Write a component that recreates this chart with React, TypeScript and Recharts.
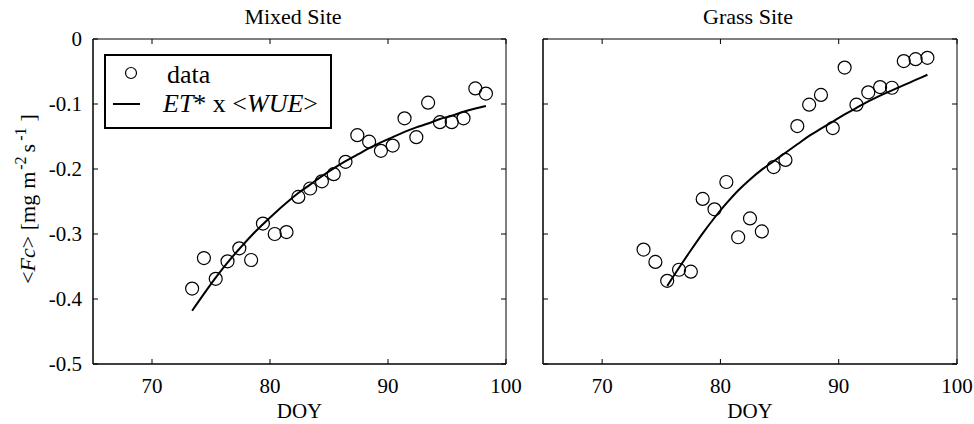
import { ComposedChart, Scatter, Line, XAxis, YAxis, Legend } from 'recharts';

// Mixed site: daily <Fc> and the ET* x <WUE> estimate
const mixedDoy = [73.4, 74.4, 75.4, 76.4, 77.4, 78.4, 79.4, 80.4, 81.4, 82.4, 83.4, 84.4, 85.4, 86.4, 87.4, 88.4, 89.4, 90.4, 91.4, 92.4, 93.4, 94.4, 95.4, 96.4, 97.4, 98.3];
const mixedFc = [-0.384, -0.337, -0.369, -0.342, -0.322, -0.340, -0.284, -0.300, -0.297, -0.243, -0.230, -0.219, -0.208, -0.189, -0.148, -0.158, -0.172, -0.164, -0.122, -0.151, -0.098, -0.128, -0.128, -0.122, -0.076, -0.084];
const mixedFit = [-0.418, -0.392, -0.367, -0.344, -0.323, -0.303, -0.285, -0.268, -0.252, -0.237, -0.224, -0.211, -0.199, -0.188, -0.178, -0.168, -0.159, -0.151, -0.143, -0.136, -0.130, -0.123, -0.118, -0.112, -0.107, -0.103];

// Grass site
const grassDoy = [73.5, 74.5, 75.5, 76.5, 77.5, 78.5, 79.5, 80.5, 81.5, 82.5, 83.5, 84.5, 85.5, 86.5, 87.5, 88.5, 89.5, 90.5, 91.5, 92.5, 93.5, 94.5, 95.5, 96.5, 97.5];
const grassFc = [-0.324, -0.343, -0.372, -0.355, -0.358, -0.246, -0.262, -0.220, -0.305, -0.276, -0.296, -0.197, -0.186, -0.134, -0.101, -0.086, -0.137, -0.044, -0.101, -0.082, -0.074, -0.075, -0.034, -0.031, -0.029];
const grassFitDoy = [75.5, 76.5, 77.5, 78.5, 79.5, 80.5, 81.5, 82.5, 83.5, 84.5, 85.5, 86.5, 87.5, 88.5, 89.5, 90.5, 91.5, 92.5, 93.5, 94.5, 95.5, 96.5, 97.5];
const grassFit = [-0.380, -0.352, -0.325, -0.299, -0.275, -0.253, -0.233, -0.216, -0.201, -0.188, -0.175, -0.162, -0.149, -0.138, -0.127, -0.116, -0.106, -0.096, -0.087, -0.079, -0.071, -0.063, -0.055];

const xTicks = [70, 80, 90, 100];
const yTicks = [-0.5, -0.4, -0.3, -0.2, -0.1, 0];

const FONT = "'Liberation Serif', 'DejaVu Serif', serif";

const toRows = (xs: number[], ys: number[]) => xs.map((x, i) => ({ x, y: ys[i] }));

const OpenCircle = (props: any) => (
  <circle cx={props.cx} cy={props.cy} r={6.5} fill="none" stroke="#000" strokeWidth={1.2} />
);

const LegendBox = () => (
  <svg width={228} height={75} style={{ display: 'block' }}>
    <rect x={1} y={1} width={226} height={73} fill="#fff" stroke="#000" strokeWidth={2} />
    <circle cx={27} cy={19} r={5.5} fill="none" stroke="#000" strokeWidth={1.2} />
    <text x={63} y={29} fontSize={26} fontFamily={FONT} fill="#000">data</text>
    <line x1={9} x2={36} y1={50} y2={50} stroke="#000" strokeWidth={2} />
    <text x={59} y={58} fontSize={26} fontFamily={FONT} fill="#000">
      <tspan fontStyle="italic">ET</tspan>* x &lt;<tspan fontStyle="italic">WUE</tspan>&gt;
    </text>
  </svg>
);

const YLabel = () => (
  <text transform="translate(35,199) rotate(-90)" textAnchor="middle" fontSize={22} fontFamily={FONT} fill="#000">
    &lt;<tspan fontStyle="italic">Fc</tspan>&gt; [mg<tspan dx={6}>m</tspan>
    <tspan dx={2} dy={-9} fontSize={16}>-2</tspan>
    <tspan dx={4} dy={9}>s</tspan>
    <tspan dx={3} dy={-9} fontSize={16}>-1</tspan>
    <tspan dx={6} dy={9}>]</tspan>
  </text>
);

interface PanelProps {
  title: string;
  titleX: number;
  points: { x: number; y: number }[];
  fit: { x: number; y: number }[];
  width: number;
  yAxisWidth: number;
  marginRight: number;
  showYLabels: boolean;
  showLegend: boolean;
}

function Panel({ title, titleX, points, fit, width, yAxisWidth, marginRight, showYLabels, showLegend }: PanelProps) {
  const tickStyle = { fontSize: 21, fill: '#000', fontFamily: FONT };
  const blank = () => '';
  return (
    <ComposedChart width={width} height={424} margin={{ top: 38, right: marginRight, bottom: 0, left: 0 }}>
      <XAxis
        type="number"
        dataKey="x"
        domain={[65, 100]}
        ticks={xTicks}
        interval={0}
        allowDataOverflow
        height={60}
        tickSize={-5}
        tickMargin={19}
        tick={tickStyle}
        axisLine={{ stroke: '#000', strokeWidth: 1.5 }}
        tickLine={{ stroke: '#000' }}
        label={{ value: 'DOY', position: 'insideBottom', offset: 6, fontSize: 21, fill: '#000', fontFamily: FONT }}
      />
      <XAxis
        xAxisId="top"
        orientation="top"
        type="number"
        dataKey="x"
        domain={[65, 100]}
        ticks={xTicks}
        interval={0}
        allowDataOverflow
        height={1}
        tickSize={-5}
        tickFormatter={blank}
        axisLine={{ stroke: '#000' }}
        tickLine={{ stroke: '#000' }}
        label={{
          content: () => (
            <text x={titleX} y={24} textAnchor="middle" fontSize={22} fontFamily={FONT} fill="#000">
              {title}
            </text>
          ),
        }}
      />
      <YAxis
        type="number"
        dataKey="y"
        domain={[-0.5, 0]}
        ticks={yTicks}
        interval={0}
        allowDataOverflow
        width={yAxisWidth}
        tickSize={-5}
        tickMargin={16}
        tick={tickStyle}
        tickFormatter={showYLabels ? (v: number) => String(v) : blank}
        axisLine={{ stroke: '#000', strokeWidth: 1.5 }}
        tickLine={{ stroke: '#000' }}
        label={showYLabels ? { content: () => <YLabel /> } : undefined}
      />
      <YAxis
        yAxisId="right"
        orientation="right"
        type="number"
        dataKey="y"
        domain={[-0.5, 0]}
        ticks={yTicks}
        interval={0}
        allowDataOverflow
        width={1}
        tickSize={-5}
        tickFormatter={blank}
        axisLine={{ stroke: '#000' }}
        tickLine={{ stroke: '#000' }}
      />
      {showLegend && (
        <Legend
          layout="vertical"
          align="center"
          verticalAlign="middle"
          content={() => <LegendBox />}
          wrapperStyle={{ position: 'absolute', left: 104, top: 54, width: 228, height: 75 }}
        />
      )}
      <Scatter name="data" data={points} dataKey="y" shape={OpenCircle} isAnimationActive={false} />
      <Line
        name="ET* x <WUE>"
        data={fit}
        dataKey="y"
        type="monotone"
        dot={false}
        stroke="#000"
        strokeWidth={2}
        isAnimationActive={false}
      />
      {/* invisible copy that ties the frame axes (top, right) to data */}
      <Line
        xAxisId="top"
        yAxisId="right"
        data={fit}
        dataKey="y"
        dot={false}
        stroke="none"
        legendType="none"
        isAnimationActive={false}
      />
    </ComposedChart>
  );
}

export default function App() {
  return (
    <div style={{ position: 'absolute', left: 0, top: 0, width: 974, height: 424, background: '#fff', fontFamily: FONT }}>
      <div style={{ position: 'absolute', left: 0, top: 0 }}>
        <Panel
          title="Mixed Site"
          titleX={293}
          points={toRows(mixedDoy, mixedFc)}
          fit={toRows(mixedDoy, mixedFit)}
          width={530}
          yAxisWidth={93}
          marginRight={23}
          showYLabels
          showLegend
        />
      </div>
      <div style={{ position: 'absolute', left: 520, top: 0 }}>
        <Panel
          title="Grass Site"
          titleX={228}
          points={toRows(grassDoy, grassFc)}
          fit={toRows(grassFitDoy, grassFit)}
          width={454}
          yAxisWidth={23}
          marginRight={16}
          showYLabels={false}
          showLegend={false}
        />
      </div>
    </div>
  );
}
